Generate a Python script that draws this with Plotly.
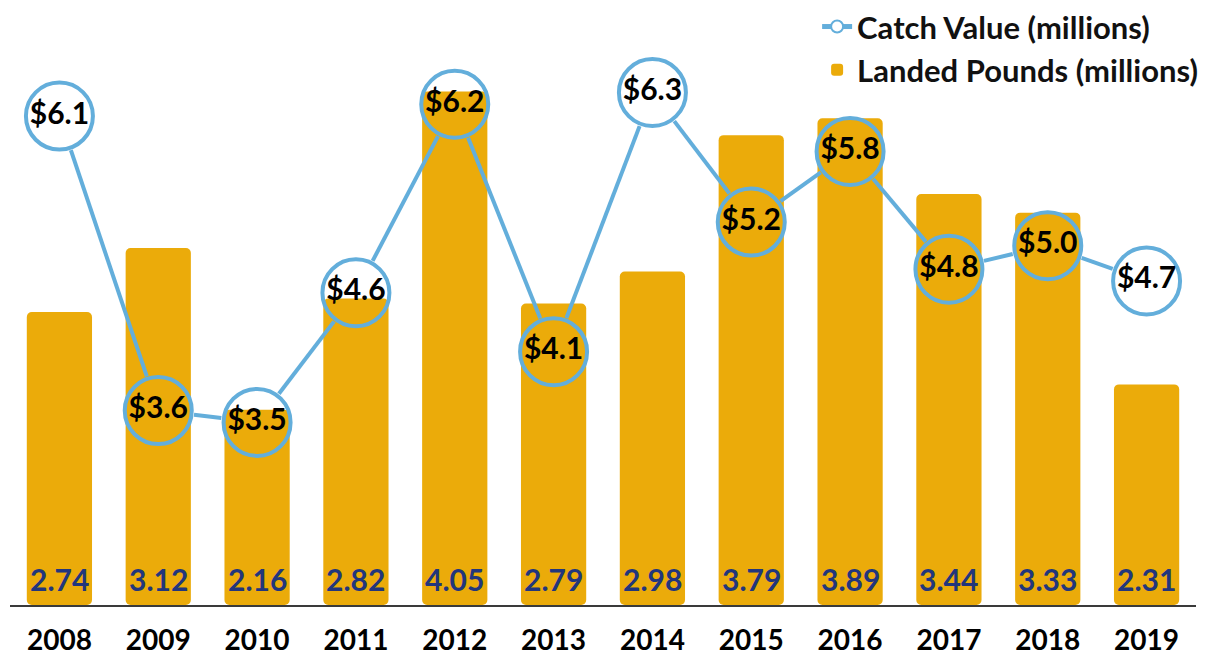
import math
import plotly.graph_objects as go

years = ["2008", "2009", "2010", "2011", "2012", "2013", "2014", "2015", "2016", "2017", "2018", "2019"]
landed_pounds = [2.74, 3.12, 2.16, 2.82, 4.05, 2.79, 2.98, 3.79, 3.89, 3.44, 3.33, 2.31]
catch_value = [6.1, 3.6, 3.5, 4.6, 6.2, 4.1, 6.3, 5.2, 5.8, 4.8, 5.0, 4.7]

# the page has an 8px body margin, so the figure is drawn 8px in from the window edge
W_FIG, H_FIG = 1200, 649
M = dict(l=2, r=12, t=2, b=52, autoexpand=False)
PW = W_FIG - M["l"] - M["r"]
PH = H_FIG - M["t"] - M["b"]

XR = [-0.5, len(years) - 0.5]
Y1R = [1.0, 1.0 + PH / 168.4]
Y2R = [1.95, 7.0]

BAR_COLOR = "#EBAB0A"
LINE_COLOR = "#63AEDB"
NAVY = "#22367C"
FONT = "Lato"

xs = list(range(len(years)))

# shorten line segments so they stop at circle edges
R = 36.0
def to_px(x, y):
    return ((x - XR[0]) / (XR[1] - XR[0]) * PW, (y - Y2R[0]) / (Y2R[1] - Y2R[0]) * PH)
def to_data(px, py):
    return (XR[0] + px / PW * (XR[1] - XR[0]), Y2R[0] + py / PH * (Y2R[1] - Y2R[0]))

seg_x, seg_y = [], []
for i in range(len(xs) - 1):
    ax, ay = to_px(xs[i], catch_value[i])
    bx, by = to_px(xs[i + 1], catch_value[i + 1])
    d = math.hypot(bx - ax, by - ay)
    ux, uy = (bx - ax) / d, (by - ay) / d
    p0 = to_data(ax + ux * R, ay + uy * R)
    p1 = to_data(bx - ux * R, by - uy * R)
    seg_x += [p0[0], p1[0], None]
    seg_y += [p0[1], p1[1], None]

fig = go.Figure()

fig.add_trace(go.Bar(
    x=xs, y=[v - Y1R[0] for v in landed_pounds], base=Y1R[0],
    marker=dict(color=BAR_COLOR, line=dict(width=0)),
    name="Landed Pounds (millions)", legendrank=2,
    hoverinfo="skip",
))

fig.add_trace(go.Scatter(
    x=seg_x, y=seg_y, yaxis="y2", mode="lines",
    line=dict(color=LINE_COLOR, width=4), showlegend=False, hoverinfo="skip",
))

fig.add_trace(go.Scatter(
    x=xs, y=catch_value, yaxis="y2", mode="markers+text",
    marker=dict(size=67, color="rgba(0,0,0,0)", line=dict(color=LINE_COLOR, width=4)),
    text=[f"${v:.1f}" for v in catch_value], textposition="middle center",
    textfont=dict(family=FONT, size=30, color="#000000", weight="bold"),
    showlegend=False,
))

fig.add_trace(go.Scatter(
    x=[None], y=[None], yaxis="y2", mode="lines+markers",
    name="Catch Value (millions)", legendrank=1,
    line=dict(color=LINE_COLOR, width=4),
    marker=dict(size=14, color="white", line=dict(color=LINE_COLOR, width=3)),
))

for x, v in zip(xs, landed_pounds):
    fig.add_annotation(
        x=x, y=Y1R[0], xref="x", yref="y", text=f"{v:.2f}",
        showarrow=False, yanchor="bottom", yshift=6,
        font=dict(family=FONT, size=30, color=NAVY, weight="bold"),
    )

fig.update_layout(
    width=W_FIG, height=H_FIG, margin=M,
    paper_bgcolor="white", plot_bgcolor="white",
    bargap=0.34, barcornerradius=5,
    xaxis=dict(range=XR, tickmode="array", tickvals=xs, ticktext=years,
               showgrid=False, zeroline=False, showline=True, automargin=False,
               linecolor="#3a3a3a", linewidth=1.5, ticks="",
               tickfont=dict(family=FONT, size=28, color="#000000", weight="bold"),
               ticklabelstandoff=10),
    yaxis=dict(range=Y1R, visible=False, showgrid=False, zeroline=False, automargin=False),
    yaxis2=dict(range=Y2R, overlaying="y", visible=False, showgrid=False, zeroline=False, automargin=False),
    legend=dict(x=1.006, xanchor="right", y=1.017, yanchor="top",
                font=dict(family=FONT, size=31, color="#111111", weight="bold"),
                bgcolor="rgba(0,0,0,0)", itemsizing="constant", tracegroupgap=0),
    showlegend=True,
)

fig.write_html("out.html")
